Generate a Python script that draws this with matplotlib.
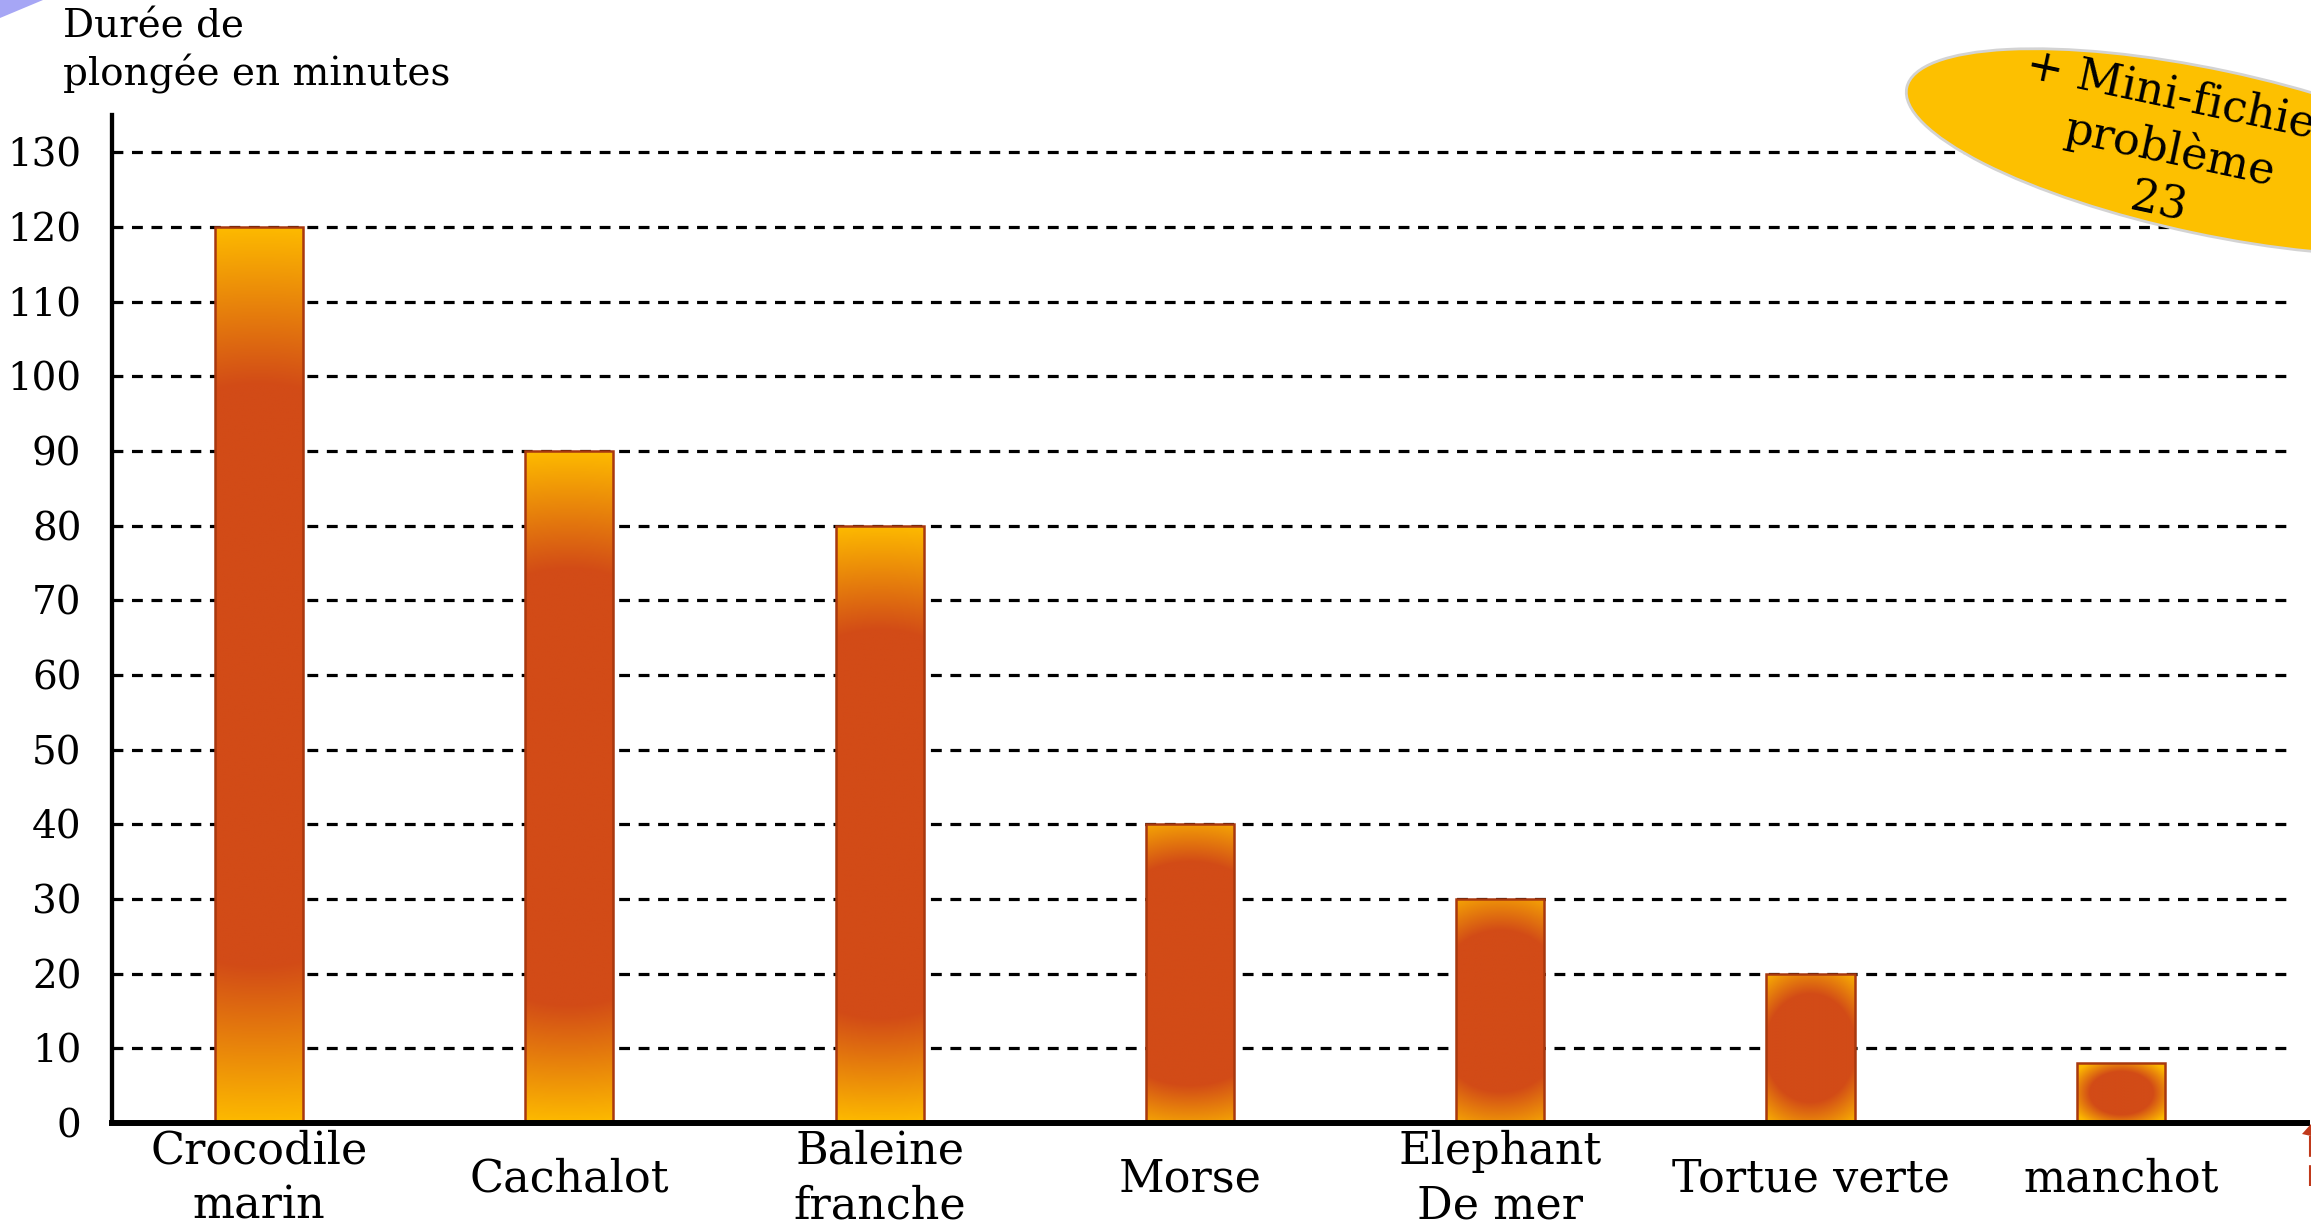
import numpy as np
import matplotlib
matplotlib.use('Agg')
import matplotlib.pyplot as plt
from matplotlib.colors import LinearSegmentedColormap
from matplotlib.patches import Ellipse, Polygon
from matplotlib.lines import Line2D
from matplotlib.transforms import IdentityTransform

# ---- data ----
categories = ["Crocodile\nmarin", "Cachalot", "Baleine\nfranche", "Morse",
              "Elephant\nDe mer", "Tortue verte", "manchot"]
durations = [120, 90, 80, 40, 30, 20, 8]
yticks = list(range(0, 140, 10))
ylabel = "Durée de\nplongée en minutes"
badge = "+ Mini-fichier\nproblème\n23"

# ---- figure ----
W, H = 2311, 1232
DPI = 100
FONT = 'DejaVu Serif'
plt.rcParams['font.family'] = [FONT, 'DejaVu Sans']

fig = plt.figure(figsize=(W / DPI, H / DPI), dpi=DPI)
fig.patch.set_facecolor('white')
ax = fig.add_axes([112 / W, 1 - 1123 / H, (2307 - 112) / W, (1123 - 115) / H])

cmap = LinearSegmentedColormap.from_list('bargrad', ['#D24B17', '#FDB900'])

x = np.arange(len(categories))
bars = ax.bar(x, durations, width=0.284, facecolor='none', edgecolor='#A8380F',
              linewidth=1.8, zorder=3)

for b, h in zip(bars, durations):
    x0, w = b.get_x(), b.get_width()
    ny, nx = 400, 80
    yy = np.linspace(0, h, ny)[:, None]
    xx = np.linspace(-1, 1, nx)[None, :]
    s = np.clip((h - 20) / 60.0, 0, 1)
    L = max(0.25 * h, min(0.5 * h, 12))
    a = 0.72 - 0.42 * s
    bb = 1.25 - 0.25 * s
    k = min(1.0, 14.0 / h)
    dy = np.clip(np.abs(yy - h / 2) - (h / 2 - L), 0, None) / L
    d = np.sqrt(dy ** 2 + (k * xx) ** 2)
    t = np.clip((d - a) / (bb - a), 0, 1)
    im = ax.imshow(t, cmap=cmap, vmin=0, vmax=1, extent=(x0, x0 + w, 0, h),
                   origin='lower', aspect='auto', interpolation='bilinear', zorder=2)
    im.set_clip_path(b)

for v in yticks[1:]:
    ax.axhline(v, xmin=0, xmax=0.993, color='black', lw=2.3,
               ls=(0, (3.4, 2.7)), zorder=1)

ax.set_xlim(-0.474, 6.6)
ax.set_ylim(0, 135)
ax.set_aspect('auto')

for sp in ['top', 'right']:
    ax.spines[sp].set_visible(False)
ax.spines['left'].set_linewidth(3.1)
ax.spines['bottom'].set_linewidth(4.3)
ax.spines['left'].set_zorder(4)
ax.spines['bottom'].set_zorder(4)

ax.set_yticks(yticks)
ax.set_yticklabels([str(v) for v in yticks], fontsize=28)
ax.tick_params(axis='y', length=0, pad=22)

ax.set_xticks(x)
ax.set_xticklabels(categories, fontsize=32)
ax.tick_params(axis='x', length=0, pad=40)
for lbl in ax.get_xticklabels():
    lbl.set_va('center')
    lbl.set_linespacing(1.35)

fig.text(63 / W, 1 - 8 / H, ylabel, ha='left', va='top', fontsize=28, linespacing=1.3)

# corner decoration
fig.add_artist(Polygon([(0, H), (43, H), (0, H - 18)], closed=True,
                       facecolor='#A6A6F5', edgecolor='none', transform=IdentityTransform()))

# small red arrow fragment at bottom-right edge
fig.add_artist(Polygon([(2302, H - 1134), (2311, H - 1124), (2311, H - 1136)], closed=True,
                       facecolor='#C0391B', edgecolor='none', transform=IdentityTransform()))
fig.add_artist(Line2D([2310, 2310], [H - 1136, H - 1190], color='#C0391B', lw=1.5,
                      ls=(0, (10, 4)), transform=IdentityTransform()))

# badge
fig.add_artist(Ellipse((2210, H - 152), 620, 165, angle=-12, facecolor='#FDC000',
                       edgecolor='#D3D3D3', lw=2, transform=IdentityTransform(), zorder=5))
fig.text(2170 / W, 1 - 150 / H, badge, ha='center', va='center', rotation=-12,
         rotation_mode='anchor', fontsize=32, linespacing=1.3,
         multialignment='center', zorder=6)

fig.savefig('out.png', dpi=DPI)
